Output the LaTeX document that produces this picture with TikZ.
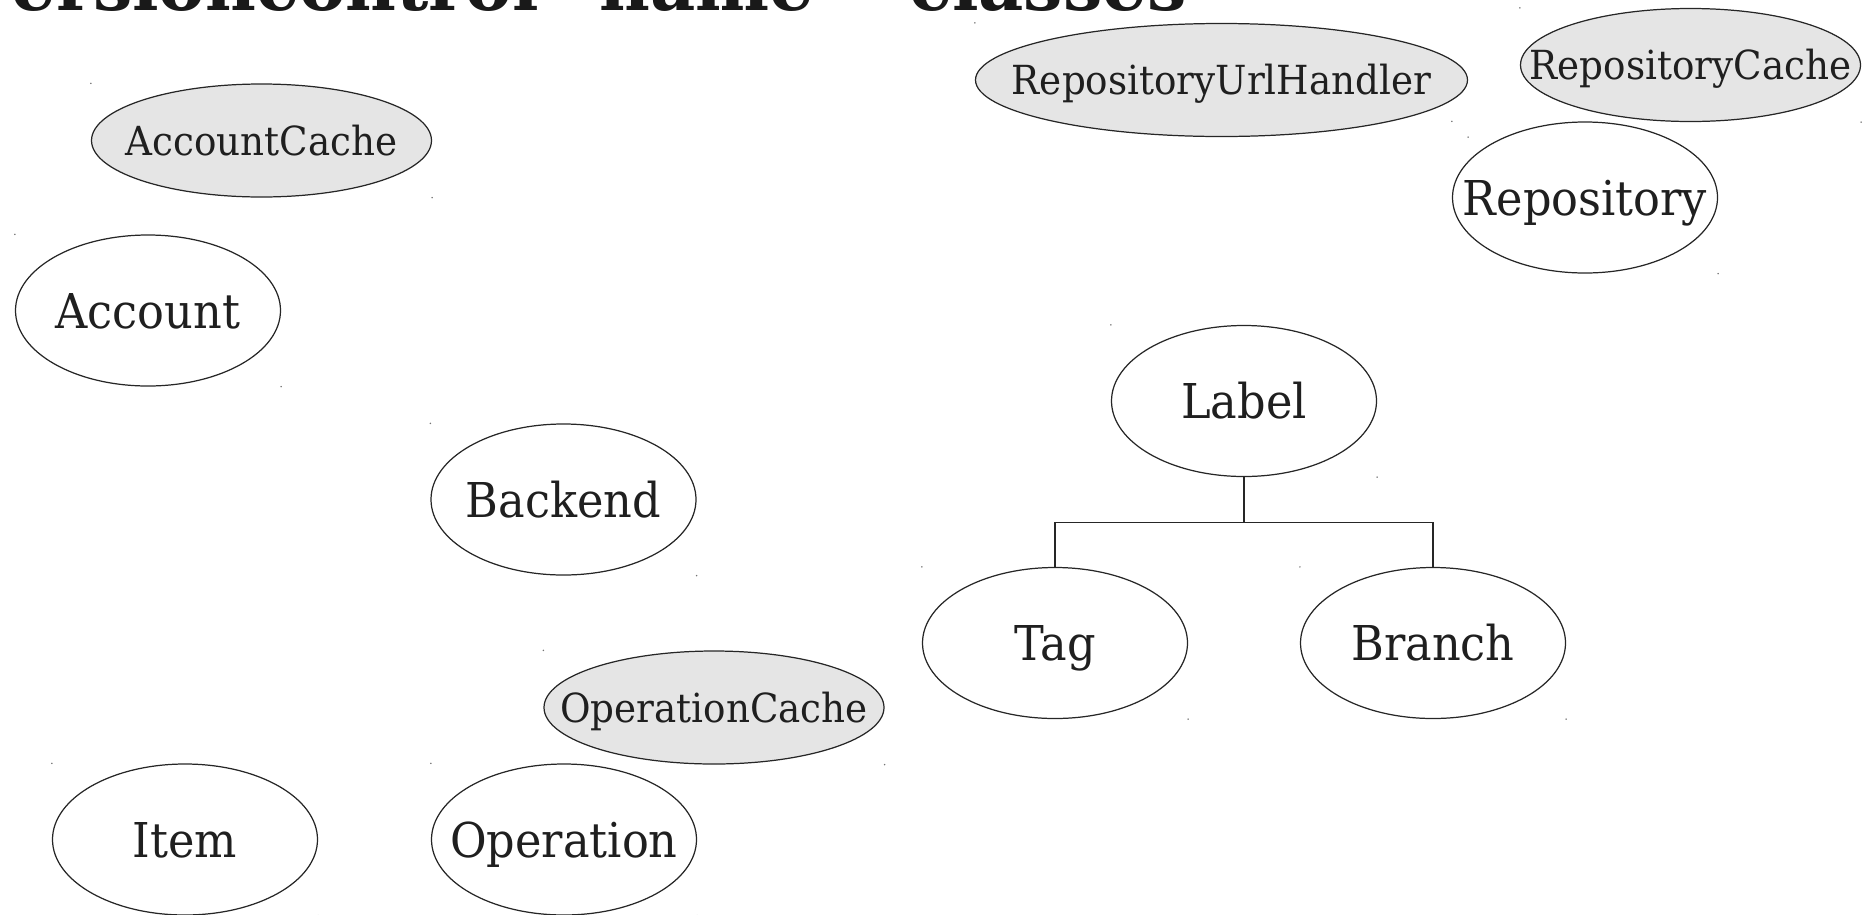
\documentclass[tikz,border=0pt]{standalone}
\usepackage{fontspec}
\setmainfont{DejaVu Serif}[FakeStretch=0.93]
\newfontfamily\titlefont{DejaVu Serif}
\usetikzlibrary{shapes.geometric,calc}
\begin{document}
\begin{tikzpicture}[x=0.1mm,y=-0.1mm,
  cls/.style={ellipse, draw=black!85, line width=0.35pt, inner sep=0pt,
    text height=3.5mm, text depth=0pt,
    minimum width=26.5mm, minimum height=15.1mm,
    font=\fontsize{13.66pt}{16pt}\selectfont, text=black!88},
  cache/.style={cls, fill=black!10, minimum width=34mm, minimum height=11.3mm,
    text height=2.95mm, font=\fontsize{11.4pt}{14pt}\selectfont},
  widecache/.style={cache, minimum width=49.2mm},
  corner/.style={fill=black!55},
  link/.style={draw=black!85, line width=0.35pt},
  titletext/.style={anchor=base west, inner sep=0pt,
    font=\titlefont\bfseries\fontsize{19.9pt}{24pt}\selectfont, text=black!90}]
\useasboundingbox (0,0) rectangle (1863,914);
\clip (0,0) rectangle (1863,914);

\node[titletext] (title) at (11,10) {ersioncontrol" name="classes"};

\node[cache] (accountcache) at (261.5,140.5) {\makebox[0pt]{AccountCache}};
\node[cls] (account) at (148,310.5) {\makebox[0pt]{Account}};
\node[cls] (backend) at (563.5,499.5) {\makebox[0pt]{Backend}};
\node[cache] (operationcache) at (714,707.5) {\makebox[0pt]{OperationCache}};
\node[cls] (item) at (185,839.5) {\makebox[0pt]{Item}};
\node[cls] (operation) at (564,839.5) {\makebox[0pt]{Operation}};
\node[widecache] (urlhandler) at (1221.5,80) {\makebox[0pt]{RepositoryUrlHandler}};
\node[cache] (repocache) at (1690.5,65) {\makebox[0pt]{RepositoryCache}};
\node[cls] (repository) at (1585,197.5) {\makebox[0pt]{Repository}};
\node[cls] (label) at (1244,401) {\makebox[0pt]{Label}};
\node[cls] (tag) at (1055,643) {\makebox[0pt]{Tag}};
\node[cls] (branch) at (1433,643) {\makebox[0pt]{Branch}};

\coordinate (junction) at ($(label.south)+(0,45)$);
\draw[link] (label.south) -- (junction) -| (tag.north);
\draw[link] (junction) -| (branch.north);

\foreach \n in {accountcache,account,backend,operationcache,item,operation,urlhandler,repocache,repository,label,tag,branch}{
  \fill[corner] (\n.west |- \n.north) circle[radius=0.08mm];
  \fill[corner] (\n.east |- \n.south) circle[radius=0.08mm];
}
\end{tikzpicture}
\end{document}
